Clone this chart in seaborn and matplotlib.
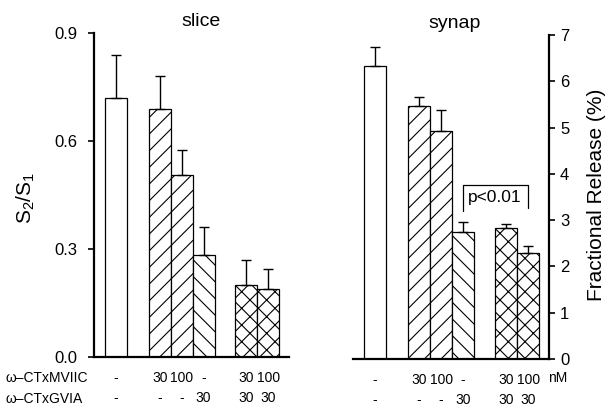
import numpy as np
import pandas as pd
import matplotlib
matplotlib.use('Agg')
import matplotlib.pyplot as plt
import seaborn as sns

sns.set_style('ticks')
plt.rcParams['font.family'] = ['Liberation Sans', 'DejaVu Sans']
plt.rcParams['mathtext.fontset'] = 'custom'
plt.rcParams['mathtext.rm'] = 'Liberation Sans'
plt.rcParams['mathtext.it'] = 'Liberation Sans'
plt.rcParams['hatch.linewidth'] = 0.8
for k in ['text.color', 'axes.labelcolor', 'xtick.color', 'ytick.color', 'axes.edgecolor']:
    plt.rcParams[k] = 'black'

# ---- data ----
positions = [1, 3, 4, 5, 6.95, 7.95]
hatches = ['', '//', '//', '\\\\', 'xx', 'xx']
mviic = ['-', '30', '100', '-', '30', '100']
gvia = ['-', '-', '-', '30', '30', '30']

slice_mean = [0.72, 0.69, 0.505, 0.283, 0.20, 0.19]
slice_err = [0.12, 0.09, 0.07, 0.077, 0.07, 0.055]

synap_mean = [6.33, 5.47, 4.93, 2.74, 2.83, 2.29]
synap_err = [0.42, 0.18, 0.46, 0.23, 0.09, 0.15]

# bracket between bar 4 and bar 6 in the synap panel
bracket_top = 3.76
bracket_left_end = 3.2
bracket_right_end = 3.27

fig = plt.figure(figsize=(6.09, 4.12), dpi=100)
ax1 = fig.add_axes([94 / 609, 1 - 357 / 412, 195 / 609, 324 / 412])
ax2 = fig.add_axes([353 / 609, 1 - 359 / 412, 196 / 609, 324 / 412])


def draw_panel(ax, mean, err):
    df = pd.DataFrame({'pos': positions, 'val': mean})
    sns.barplot(data=df, x='pos', y='val', native_scale=True, width=1,
                color='white', saturation=1, edgecolor='black', linewidth=0.9,
                errorbar=None, ax=ax)
    for p, h in zip(ax.patches, hatches):
        p.set_hatch(h)
    ax.errorbar(positions, mean, yerr=[np.zeros(len(mean)), err], fmt='none',
                ecolor='black', elinewidth=1.0, capsize=3.5, capthick=1.0, zorder=5)
    ax.set_xlim(0, 8.9)
    ax.set_xticks(positions)
    ax.set_xticklabels([f'{a}\n{b}' for a, b in zip(mviic, gvia)],
                       fontsize=10, linespacing=1.55)
    ax.tick_params(axis='x', length=0, pad=10)
    ax.set_xlabel('')
    ax.spines['bottom'].set_linewidth(1.6)
    ax.spines['top'].set_visible(False)


draw_panel(ax1, slice_mean, slice_err)
ax1.set_ylim(0, 0.9)
ax1.set_yticks([0.0, 0.3, 0.6, 0.9])
ax1.set_yticklabels(['0.0', '0.3', '0.6', '0.9'], fontsize=12)
ax1.tick_params(axis='y', length=4, width=1.2, direction='out', pad=8)
ax1.spines['right'].set_visible(False)
ax1.spines['left'].set_linewidth(1.6)
ax1.set_ylabel('S$_2$/S$_1$', fontsize=15)
ax1.yaxis.set_label_coords(-0.292, 0.49)
ax1.set_title('slice', fontsize=14, x=0.55, pad=5)

draw_panel(ax2, synap_mean, synap_err)
ax2.set_ylim(0, 7)
ax2.set_yticks(range(0, 8))
ax2.yaxis.tick_right()
ax2.yaxis.set_label_position('right')
ax2.tick_params(axis='y', length=4, width=1.2, direction='out', pad=4, labelsize=12)
ax2.spines['left'].set_visible(False)
ax2.spines['right'].set_linewidth(1.6)
ax2.set_ylabel('Fractional Release (%)', fontsize=15, rotation=90)
ax2.yaxis.set_label_coords(1.194, 0.506)
ax2.set_title('synap', fontsize=14, x=0.52, pad=5)

# significance bracket
bx0, bx1 = positions[3], positions[5]
ax2.plot([bx0, bx0, bx1, bx1],
         [bracket_left_end, bracket_top, bracket_top, bracket_right_end],
         color='black', lw=0.9, zorder=6)
ax2.text((bx0 + bx1) / 2 - 0.05, (bracket_top + bracket_right_end) / 2 - 0.02,
         'p<0.01', ha='center', va='center', fontsize=12.5)

# row labels under the bars
fig.text(5 / 609, 1 - 378 / 412, 'ω–CTxMVIIC', fontsize=10, va='center', ha='left')
fig.text(5 / 609, 1 - 399 / 412, 'ω–CTxGVIA', fontsize=10, va='center', ha='left')
fig.text(548 / 609, 1 - 378 / 412, 'nM', fontsize=10, va='center', ha='left')

fig.savefig('out.png', dpi=100)
